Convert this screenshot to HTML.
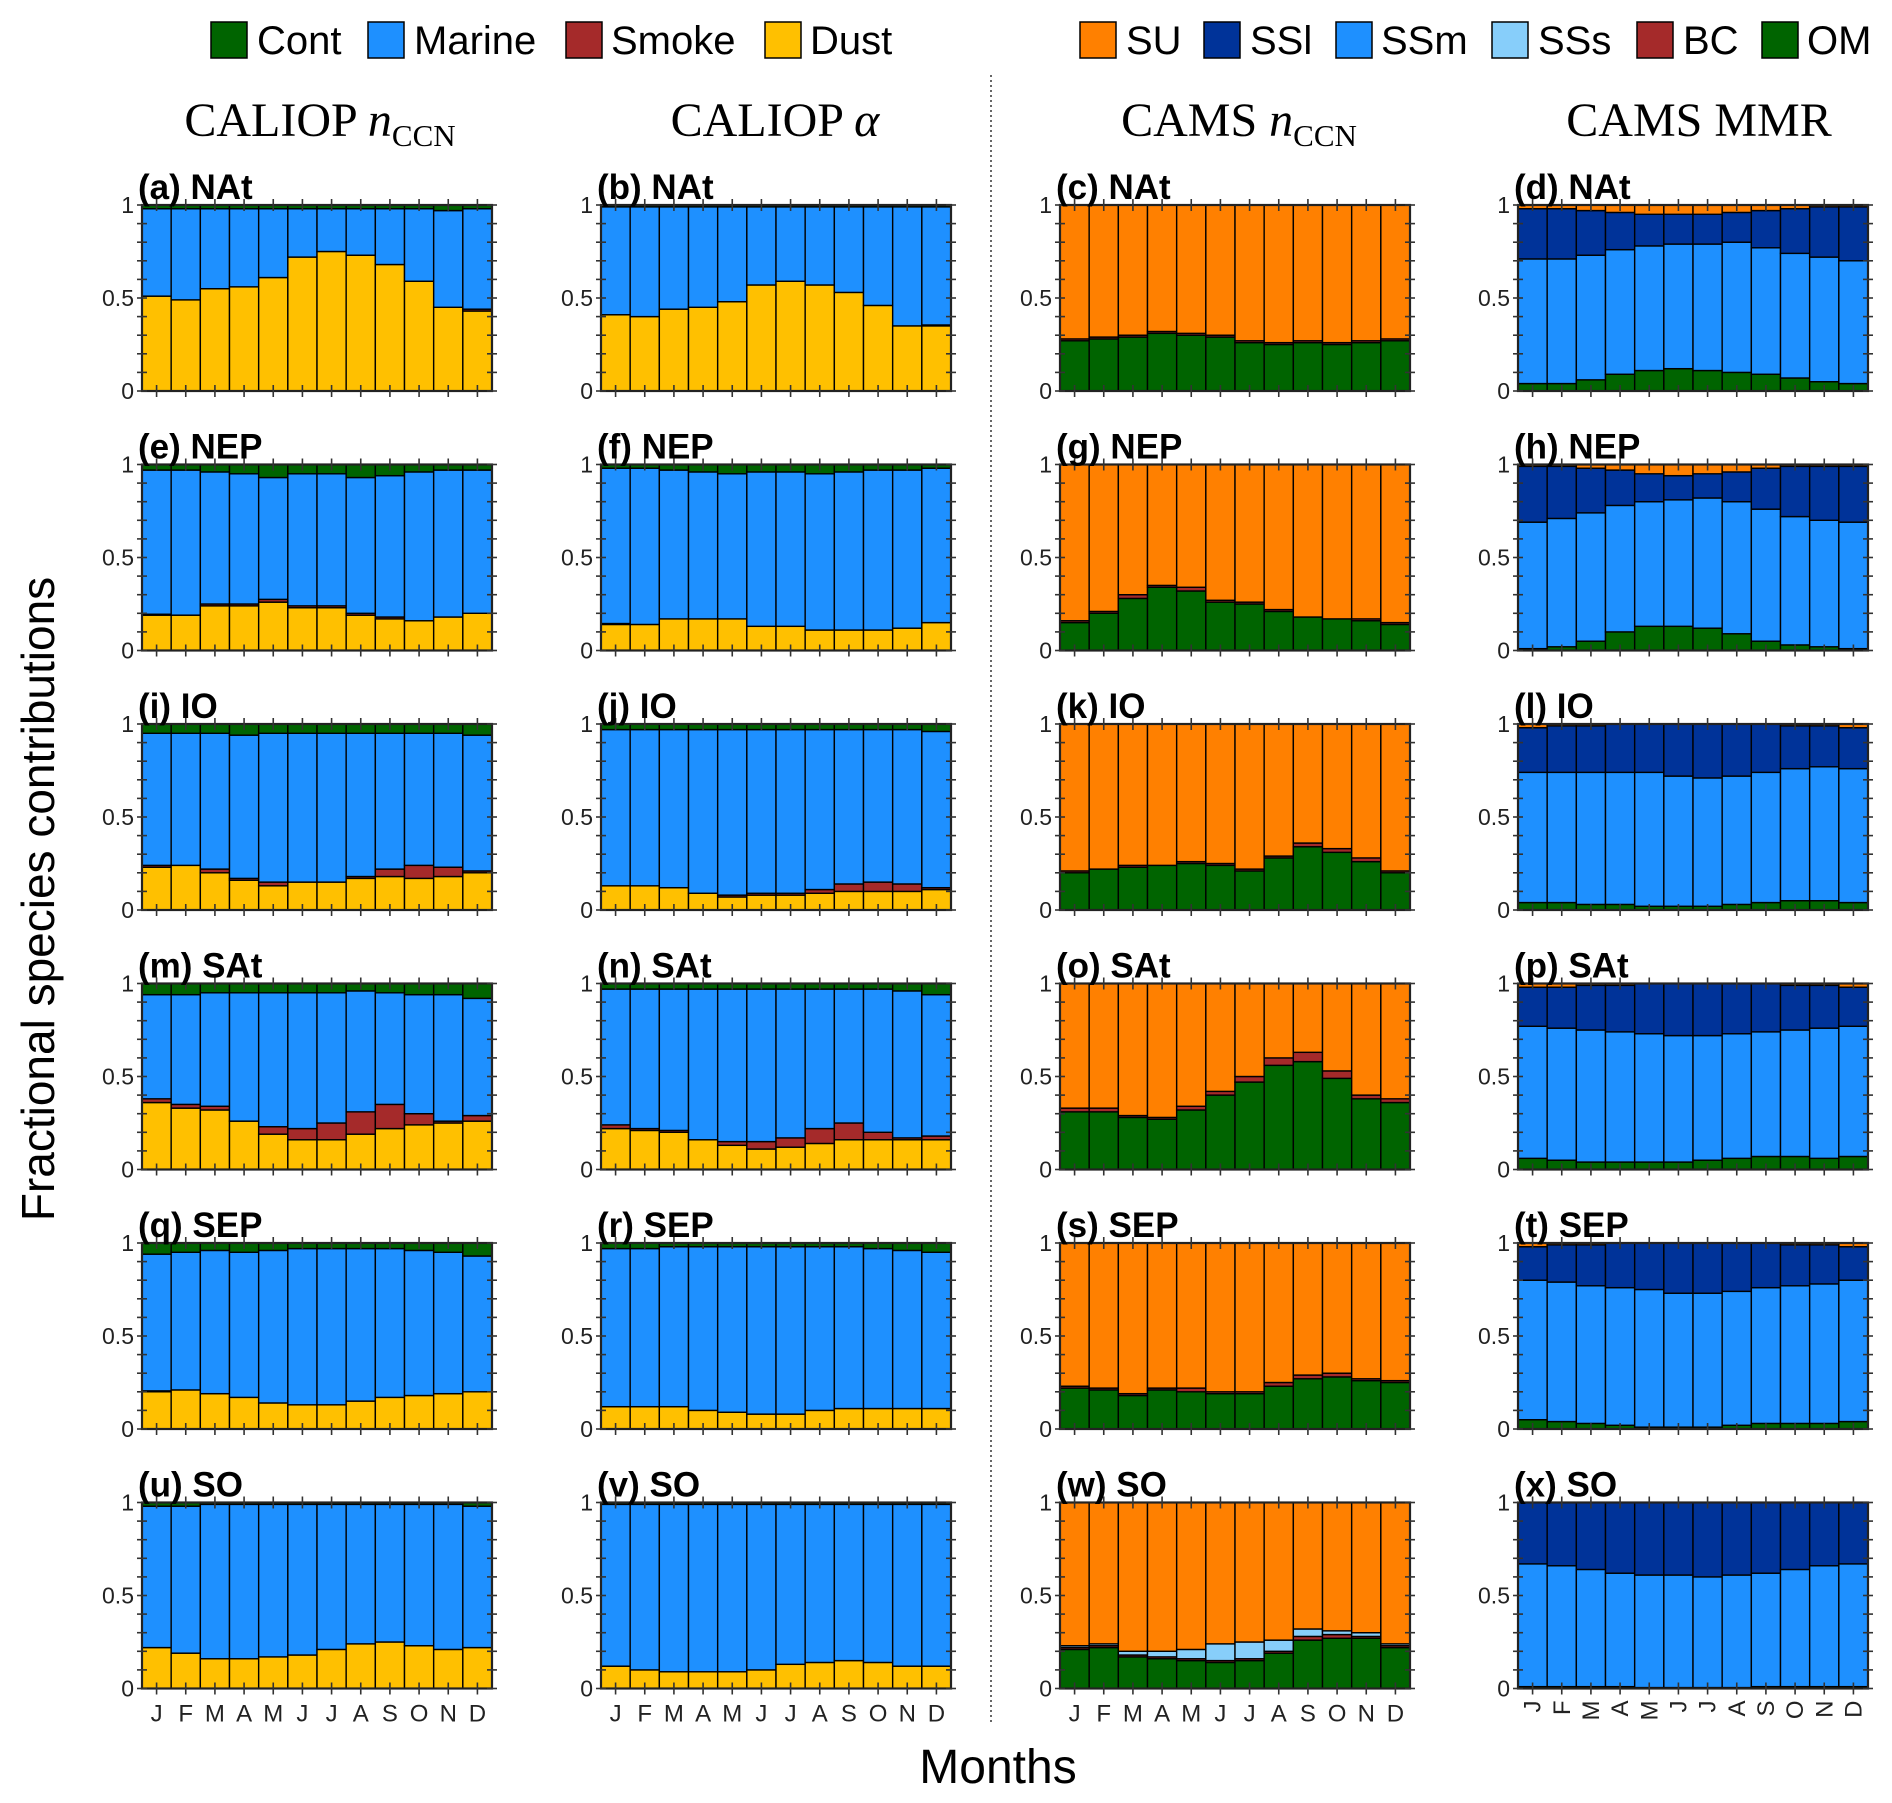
<!DOCTYPE html>
<html><head><meta charset="utf-8">
<style>
html,body{margin:0;padding:0;background:#fff;}
svg{display:block;font-family:"Liberation Sans",sans-serif;}
</style></head>
<body>
<svg id="fig" width="1892" height="1803" viewBox="0 0 1892 1803" xmlns="http://www.w3.org/2000/svg"></svg>
<script>
const months = ["J","F","M","A","M","J","J","A","S","O","N","D"];
const yTicks = [0, 0.5, 1];
const yTickLabels = ["0","0.5","1"];
// CALIOP nCCN (cumulative upper edges: dust, dust+smoke, marine top; cont fills to 1)
const a_dust=[.51,.49,.55,.56,.61,.72,.75,.73,.68,.59,.45,.43];
const a_smoke=[.51,.49,.55,.56,.61,.72,.75,.73,.68,.59,.45,.44];
const a_marine=[.98,.98,.98,.98,.98,.98,.98,.98,.98,.98,.97,.98];
const e_dust=[.19,.19,.24,.24,.26,.23,.23,.19,.17,.16,.18,.20];
const e_smoke=[.195,.19,.25,.25,.275,.24,.24,.20,.18,.16,.18,.20];
const e_marine=[.97,.97,.96,.95,.93,.95,.95,.93,.94,.96,.97,.97];
const i_dust=[.23,.24,.20,.16,.13,.15,.15,.17,.18,.17,.18,.20];
const i_smoke=[.24,.24,.22,.17,.15,.15,.15,.18,.22,.24,.23,.21];
const i_marine=[.95,.95,.95,.94,.95,.95,.95,.95,.95,.95,.95,.94];
const m_dust=[.36,.33,.32,.26,.19,.16,.16,.19,.22,.24,.25,.26];
const m_smoke=[.38,.35,.34,.26,.23,.22,.25,.31,.35,.30,.26,.29];
const m_marine=[.94,.94,.95,.95,.95,.95,.95,.96,.95,.94,.94,.92];
const q_dust=[.20,.21,.19,.17,.14,.13,.13,.15,.17,.18,.19,.20];
const q_smoke=[.205,.21,.19,.17,.14,.13,.13,.15,.17,.18,.19,.20];
const q_marine=[.94,.95,.96,.95,.96,.97,.97,.97,.97,.96,.95,.93];
const u_dust=[.22,.19,.16,.16,.17,.18,.21,.24,.25,.23,.21,.22];
const u_smoke=[.22,.19,.16,.16,.17,.18,.21,.24,.25,.23,.21,.22];
const u_marine=[.98,.98,.99,.99,.99,.99,.99,.99,.99,.99,.99,.98];
// CALIOP alpha
const b_dust=[.41,.40,.44,.45,.48,.57,.59,.57,.53,.46,.35,.35];
const b_smoke=[.41,.40,.44,.45,.48,.57,.59,.57,.53,.46,.35,.355];
const b_marine=[.99,.99,.99,.99,.99,.99,.99,.99,.99,.99,.99,.99];
const f_dust=[.14,.14,.17,.17,.17,.13,.13,.11,.11,.11,.12,.15];
const f_smoke=[.145,.14,.17,.17,.17,.13,.13,.11,.11,.11,.12,.15];
const f_marine=[.98,.98,.97,.96,.95,.96,.96,.95,.96,.97,.97,.98];
const j_dust=[.13,.13,.12,.09,.07,.08,.08,.09,.10,.10,.10,.11];
const j_smoke=[.13,.13,.12,.09,.08,.09,.09,.11,.14,.15,.14,.12];
const j_marine=[.97,.97,.97,.97,.97,.97,.97,.97,.97,.97,.97,.96];
const n_dust=[.22,.21,.20,.16,.13,.11,.12,.14,.16,.16,.16,.16];
const n_smoke=[.24,.22,.21,.16,.15,.15,.17,.22,.25,.20,.17,.18];
const n_marine=[.97,.97,.97,.97,.97,.97,.97,.97,.97,.97,.96,.94];
const r_dust=[.12,.12,.12,.10,.09,.08,.08,.10,.11,.11,.11,.11];
const r_smoke=[.12,.12,.12,.10,.09,.08,.08,.10,.11,.11,.11,.11];
const r_marine=[.97,.97,.98,.98,.98,.98,.98,.98,.98,.97,.96,.95];
const v_dust=[.12,.10,.09,.09,.09,.10,.13,.14,.15,.14,.12,.12];
const v_smoke=[.12,.10,.09,.09,.09,.10,.13,.14,.15,.14,.12,.12];
const v_marine=[.99,.99,.99,.99,.99,.99,.99,.99,.99,.99,.99,.99];
// CAMS nCCN (cumulative: OM, +BC, +SSs; SU fills to 1)
const c_om=[.27,.28,.29,.31,.30,.29,.26,.25,.26,.25,.26,.27];
const c_bc=[.28,.29,.30,.32,.31,.30,.27,.26,.27,.26,.27,.28];
const c_ss=[.28,.29,.30,.32,.31,.30,.27,.26,.27,.26,.27,.28];
const g_om=[.15,.20,.28,.34,.32,.26,.25,.21,.18,.17,.16,.14];
const g_bc=[.16,.21,.30,.35,.34,.27,.26,.22,.18,.17,.17,.15];
const g_ss=[.16,.21,.30,.35,.34,.27,.26,.22,.18,.17,.17,.15];
const k_om=[.20,.22,.23,.24,.25,.24,.21,.28,.34,.31,.26,.20];
const k_bc=[.21,.22,.24,.24,.26,.25,.22,.29,.36,.33,.28,.21];
const k_ss=[.21,.22,.24,.24,.26,.25,.22,.29,.36,.33,.28,.21];
const o_om=[.31,.31,.28,.27,.32,.40,.47,.56,.58,.49,.38,.36];
const o_bc=[.33,.33,.29,.28,.34,.42,.50,.60,.63,.53,.40,.38];
const o_ss=[.33,.33,.29,.28,.34,.42,.50,.60,.63,.53,.40,.38];
const s_om=[.22,.21,.18,.21,.20,.19,.19,.23,.27,.28,.26,.25];
const s_bc=[.23,.22,.19,.22,.22,.20,.20,.25,.29,.30,.27,.26];
const s_ss=[.23,.22,.19,.22,.22,.20,.20,.25,.29,.30,.27,.26];
const w_om=[.21,.22,.17,.16,.15,.14,.15,.19,.26,.27,.27,.22];
const w_bc=[.22,.23,.18,.17,.16,.15,.16,.20,.28,.29,.28,.23];
const w_ss=[.23,.24,.20,.20,.21,.24,.25,.26,.32,.31,.30,.24];
// CAMS MMR (cumulative: OM, +SSm, +SSl; SU fills to 1)
const d_om=[.04,.04,.06,.09,.11,.12,.11,.10,.09,.07,.05,.04];
const d_ssm=[.71,.71,.73,.76,.78,.79,.79,.80,.77,.74,.72,.70];
const d_ssl=[.98,.98,.97,.96,.95,.95,.95,.96,.97,.98,.99,.99];
const h_om=[.01,.02,.05,.10,.13,.13,.12,.09,.05,.03,.02,.01];
const h_ssm=[.69,.71,.74,.78,.80,.81,.82,.80,.76,.72,.70,.69];
const h_ssl=[.99,.99,.98,.97,.95,.94,.95,.96,.98,.99,.99,.99];
const l_om=[.04,.04,.03,.03,.02,.02,.02,.03,.04,.05,.05,.04];
const l_ssm=[.74,.74,.74,.74,.74,.72,.71,.72,.74,.76,.77,.76];
const l_ssl=[.98,.99,.99,1,1,1,1,1,1,.99,.99,.98];
const p_om=[.06,.05,.04,.04,.04,.04,.05,.06,.07,.07,.06,.07];
const p_ssm=[.77,.76,.75,.74,.73,.72,.72,.73,.74,.75,.76,.77];
const p_ssl=[.98,.98,.99,.99,1,1,1,1,1,.99,.99,.98];
const t_om=[.05,.04,.03,.02,.01,.01,.01,.02,.03,.03,.03,.04];
const t_ssm=[.80,.79,.77,.76,.75,.73,.73,.74,.76,.77,.78,.80];
const t_ssl=[.98,.99,.99,1,1,1,1,1,1,.99,.99,.98];
const x_om=[.01,.01,.01,.01,.005,.005,.005,.005,.01,.01,.01,.01];
const x_ssm=[.67,.66,.64,.62,.61,.61,.60,.61,.62,.64,.66,.67];
const x_ssl=[1,1,1,1,1,1,1,1,1,1,1,1];

const C = {dust:"#FFC000",smoke:"#A52A2A",marine:"#1E90FF",cont:"#006400",su:"#FF8000",ssl:"#003399",ssm:"#1E90FF",sss:"#87CEFA",bc:"#A52A2A",om:"#006400"};
const regions=["NAt","NEP","IO","SAt","SEP","SO"];
const letters="abcdefghijklmnopqrstuvwx";
const colX=[142,601,1060,1518], rowY=[205,464.5,724,983.5,1243,1502.5];
const PW=350, PH=186;
const svg=document.getElementById('fig');
const NS="http://www.w3.org/2000/svg";
function mk(tag,attrs,parent){const e=document.createElementNS(NS,tag);for(const k in attrs)e.setAttribute(k,attrs[k]);(parent||svg).appendChild(e);return e;}
function arr(name){return eval(name);}
function layersFor(col,L){
  if(col<2){const d=arr(L+"_dust"),s=arr(L+"_smoke"),m=arr(L+"_marine");
    return [[null,d,C.dust,"dust"],[d,s,C.smoke,"smoke"],[s,m,C.marine,"marine"],[m,null,C.cont,"cont"]];}
  if(col==2){const o=arr(L+"_om"),b=arr(L+"_bc"),s=arr(L+"_ss");
    return [[null,o,C.om,"om"],[o,b,C.bc,"bc"],[b,s,C.sss,"sss"],[s,null,C.su,"su"]];}
  const o=arr(L+"_om"),m=arr(L+"_ssm"),l=arr(L+"_ssl");
  return [[null,o,C.om,"om"],[o,m,C.ssm,"ssm"],[m,l,C.ssl,"ssl"],[l,null,C.su,"su"]];
}
for(let r=0;r<6;r++)for(let c=0;c<4;c++){
  const L=letters[r*4+c];
  const x0=colX[c], y0=rowY[r];
  const g=mk('g',{});
  
  
  const xs=i=>x0+i*PW/12;
  const ys=v=>y0+PH*(1-v);
  const layers=layersFor(c,L);
  for(let i=0;i<12;i++){
    for(const [lo,hi,col,nm] of layers){
      const a=lo?lo[i]:0, b=hi?hi[i]:1;
      if(b-a<=0)continue;
      const rc=mk('rect',{x:xs(i),y:ys(b),width:PW/12,height:ys(a)-ys(b),fill:col,stroke:"#000","stroke-width":1.4},g);
      
      
    }
  }
  mk('rect',{x:x0,y:y0,width:PW,height:PH,fill:"none",stroke:"#222","stroke-width":2.2},g);
  for(let k=0;k<=10;k++){const y=ys(k/10);
    mk('line',{x1:x0-5,x2:x0+5,y1:y,y2:y,stroke:"#333","stroke-width":1.6},g);
    mk('line',{x1:x0+PW-5,x2:x0+PW+5,y1:y,y2:y,stroke:"#333","stroke-width":1.6},g);}
  for(let t=0;t<yTicks.length;t++){
    const tx=mk('text',{x:x0-8,y:ys(yTicks[t])+8,"text-anchor":"end","font-size":23,fill:"#222"},g);
    tx.textContent=yTickLabels[t];
    
    
  }
  for(let i=0;i<12;i++){const x=xs(i+0.5);
    mk('line',{x1:x,x2:x,y1:y0-6,y2:y0+6,stroke:"#333","stroke-width":1.6},g);
    mk('line',{x1:x,x2:x,y1:y0+PH-6,y2:y0+PH+6,stroke:"#333","stroke-width":1.6},g);
    if(r==5){
      let t;
      if(c<3) t=mk('text',{x:x,y:y0+PH+33,"text-anchor":"middle","font-size":24,fill:"#222"},g);
      else t=mk('text',{x:x+8,y:y0+PH+12,"text-anchor":"end","font-size":24,fill:"#222",transform:`rotate(-90 ${x+8} ${y0+PH+12})`},g);
      t.textContent=months[i];
      
      
    }
  }
  const pl=mk('text',{x:x0-4,y:y0-6,"font-size":35,"font-weight":"bold",fill:"#000"},g);
  pl.textContent='('+L+') '+regions[r];
  
  
}
</script>
<svg style="position:absolute;left:0;top:0" width="1892" height="1803">
  <g font-family="Liberation Serif, serif" font-size="48" fill="#000" text-anchor="middle">
    <text x="320" y="136">CALIOP <tspan font-style="italic">n</tspan><tspan font-size="31" dy="10">CCN</tspan></text>
    <text x="775" y="136">CALIOP <tspan font-style="italic">α</tspan></text>
    <text x="1239" y="136">CAMS <tspan font-style="italic">n</tspan><tspan font-size="31" dy="10">CCN</tspan></text>
    <text x="1699" y="136">CAMS MMR</text>
  </g>
  <line x1="991" y1="75" x2="991" y2="1725" stroke="#333" stroke-width="1.5" stroke-dasharray="2,3"/>
  <text x="0" y="0" transform="translate(54 899) rotate(-90)" text-anchor="middle" font-size="46" fill="#000" font-family="Liberation Sans, sans-serif">Fractional species contributions</text>
  <text x="998" y="1783" text-anchor="middle" font-size="48" fill="#000" font-family="Liberation Sans, sans-serif">Months</text>
  <g font-family="Liberation Sans, sans-serif" font-size="40" fill="#000">
    <g><rect x="211" y="22" width="36" height="36" fill="#006400" stroke="#000" stroke-width="1.5"/><text x="257" y="54">Cont</text></g>
    <g><rect x="368" y="22" width="36" height="36" fill="#1E90FF" stroke="#000" stroke-width="1.5"/><text x="414" y="54">Marine</text></g>
    <g><rect x="566" y="22" width="36" height="36" fill="#A52A2A" stroke="#000" stroke-width="1.5"/><text x="611" y="54">Smoke</text></g>
    <g><rect x="765" y="22" width="36" height="36" fill="#FFC000" stroke="#000" stroke-width="1.5"/><text x="810" y="54">Dust</text></g>
    <g><rect x="1080" y="22" width="36" height="36" fill="#FF8000" stroke="#000" stroke-width="1.5"/><text x="1126" y="54">SU</text></g>
    <g><rect x="1204" y="22" width="36" height="36" fill="#003399" stroke="#000" stroke-width="1.5"/><text x="1250" y="54">SSl</text></g>
    <g><rect x="1336" y="22" width="36" height="36" fill="#1E90FF" stroke="#000" stroke-width="1.5"/><text x="1381" y="54">SSm</text></g>
    <g><rect x="1492" y="22" width="36" height="36" fill="#87CEFA" stroke="#000" stroke-width="1.5"/><text x="1538" y="54">SSs</text></g>
    <g><rect x="1637" y="22" width="36" height="36" fill="#A52A2A" stroke="#000" stroke-width="1.5"/><text x="1683" y="54">BC</text></g>
    <g><rect x="1762" y="22" width="36" height="36" fill="#006400" stroke="#000" stroke-width="1.5"/><text x="1807" y="54">OM</text></g>
  </g>
</svg>
</body></html>
